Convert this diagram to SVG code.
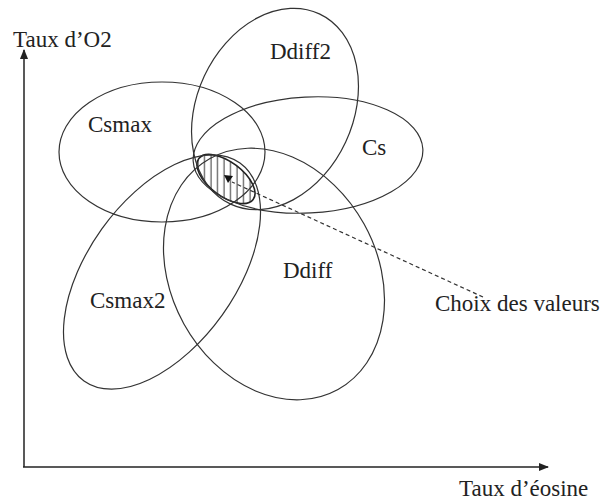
<svg xmlns="http://www.w3.org/2000/svg" width="603" height="500" viewBox="0 0 603 500">
<style>
.e{fill:none;stroke:#333;stroke-width:1.2}
.ax{fill:none;stroke:#222;stroke-width:1.5}
.t{font-family:"Liberation Serif",serif;font-size:23px;fill:#222}
</style>
<defs>
<marker id="ah" viewBox="0 0 10 10" refX="9" refY="5" markerWidth="7" markerHeight="7" orient="auto"><path d="M0,1 L10,5 L0,9 z" fill="#222"/></marker>
<clipPath id="hc"><ellipse cx="226" cy="179" rx="34" ry="17" transform="rotate(37 226 179)"/></clipPath>
<pattern id="hp" width="6.5" height="10" patternUnits="userSpaceOnUse"><line x1="3" y1="0" x2="3" y2="10" stroke="#333" stroke-width="1"/></pattern>
</defs>
<rect width="603" height="500" fill="#fff"/>
<g id="axes">
<line class="ax" x1="24" y1="467" x2="24" y2="50" marker-end="url(#ah)"/>
<line class="ax" x1="23" y1="467" x2="548" y2="467" marker-end="url(#ah)"/>
<text class="t" x="13" y="47">Taux d’O2</text>
<text class="t" x="459" y="496">Taux d’éosine</text>
</g>
<g id="hatch">
<rect x="185" y="150" width="80" height="60" fill="url(#hp)" clip-path="url(#hc)"/>
<ellipse cx="226" cy="179" rx="34" ry="17" transform="rotate(37 226 179)" fill="none" stroke="#222" stroke-width="1.6"/>
</g>
<g id="csmax"><ellipse class="e" cx="162" cy="152" rx="103" ry="70"/><text class="t" x="88" y="132">Csmax</text></g>
<g id="ddiff2"><ellipse class="e" cx="275" cy="109" rx="78" ry="105" transform="rotate(25 275 109)"/><text class="t" x="270" y="59">Ddiff2</text></g>
<g id="cs"><ellipse class="e" cx="308" cy="155" rx="115" ry="58" transform="rotate(-3 308 155)"/><text class="t" x="362" y="155">Cs</text></g>
<g id="csmax2"><ellipse class="e" cx="162" cy="272" rx="74" ry="134" transform="rotate(35.6 162 272)"/><text class="t" x="90" y="308">Csmax2</text></g>
<g id="ddiff"><ellipse class="e" cx="274" cy="274" rx="103" ry="132" transform="rotate(-29 274 274)"/><text class="t" x="283" y="278">Ddiff</text></g>
<g id="connectors">
<line x1="483" y1="297" x2="232" y2="182" stroke="#333" stroke-width="1.2" stroke-dasharray="4,3"/>
<path d="M224,175 L233,176 L228,183 z" fill="#111"/>
</g>
<text class="t" x="435" y="311">Choix des valeurs</text>
</svg>
